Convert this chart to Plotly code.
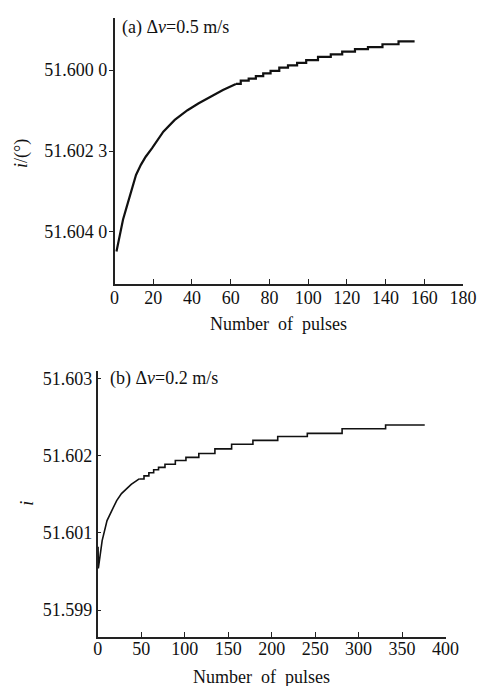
import plotly.graph_objects as go

# Panel (a): dv = 0.5 m/s
a_pulses_smooth = [1, 2.7, 4.4, 6.1, 8.1, 11.1, 13.6, 16.1, 19.4, 25.2, 31.1, 37.7, 43.5, 49.3, 56, 62.7]
a_incl_smooth = [51.60448, 51.60406, 51.60369, 51.60341, 51.60308, 51.60259, 51.60234, 51.60214,
                 51.60193, 51.60152, 51.60123, 51.60099, 51.60082, 51.60066, 51.60049, 51.60034]
a_pulses_step = [62.7, 65.2, 69.3, 73, 76.8, 80.6, 85.1, 89.6, 94.3, 99, 105.1, 111.7, 117.6,
                 124.2, 130.9, 138.4, 146.7, 155]
a_incl_step = [51.60034, 51.60026, 51.60021, 51.60015, 51.60008, 51.60002, 51.59994, 51.59988,
               51.59982, 51.59975, 51.59967, 51.59961, 51.59954, 51.59948, 51.59943, 51.59936,
               51.59929, 51.59929]
a_xticks = [0, 20, 40, 60, 80, 100, 120, 140, 160, 180]
a_ytickvals = [51.6000, 51.6020, 51.6040]
a_yticktext = ["51.600 0", "51.602 3", "51.604 0"]

# Panel (b): dv = 0.2 m/s
b_pulses_smooth = [0.5, 0.8, 5.2, 10.8, 16.3, 21.9, 27.4, 33, 38.6, 47.8]
b_incl_smooth = [51.60082, 51.60054, 51.60090, 51.60116, 51.60129, 51.60142, 51.60151,
                 51.60157, 51.60163, 51.60170]
b_pulses_step = [47.8, 53.3, 58.9, 64.4, 70, 77.4, 89.3, 101.5, 116.3, 134.8, 154, 178.5,
                 207, 241, 281, 331, 376]
b_incl_step = [51.60170, 51.60174, 51.60178, 51.60182, 51.60185, 51.60189, 51.60194, 51.60198,
               51.60203, 51.60209, 51.60215, 51.60220, 51.60225, 51.60229, 51.60235, 51.60240,
               51.60240]
b_xticks = [0, 50, 100, 150, 200, 250, 300, 350, 400]
b_ytickvals = [51.603, 51.602, 51.601, 51.600]
b_yticktext = ["51.603", "51.602", "51.601", "51.599"]

W, H = 490, 686
FONT = "Liberation Serif"


def px_x(p):
    return p / W


def px_y(p):
    return 1 - p / H


fig = go.Figure()

line_a = dict(color="#111111", width=2.2)
line_b = dict(color="#111111", width=1.6)

fig.add_trace(go.Scatter(x=a_pulses_smooth, y=a_incl_smooth, mode="lines", line=line_a,
                         xaxis="x", yaxis="y", showlegend=False))
fig.add_trace(go.Scatter(x=a_pulses_step, y=a_incl_step, mode="lines",
                         line=dict(line_a, shape="hv"), xaxis="x", yaxis="y", showlegend=False))
fig.add_trace(go.Scatter(x=b_pulses_smooth, y=b_incl_smooth, mode="lines", line=line_b,
                         xaxis="x2", yaxis="y2", showlegend=False))
fig.add_trace(go.Scatter(x=b_pulses_step, y=b_incl_step, mode="lines",
                         line=dict(line_b, shape="hv"), xaxis="x2", yaxis="y2", showlegend=False))

axis_common = dict(showgrid=False, zeroline=False, showline=True, linecolor="#222222",
                   linewidth=1.5, tickcolor="#222222", tickwidth=1.2,
                   tickfont=dict(family=FONT, size=18, color="#111111"))

fig.update_layout(
    width=W, height=H,
    margin=dict(l=0, r=0, t=0, b=0),
    paper_bgcolor="white", plot_bgcolor="white",
    xaxis=dict(axis_common, domain=[px_x(114.5), px_x(475.5)], range=[0, 180],
               tickvals=a_xticks, ticks="inside", ticklen=5, anchor="y",
               ticklabelstandoff=-4),
    yaxis=dict(axis_common, domain=[px_y(283), px_y(16)], range=[51.60529, 51.59871],
               tickvals=a_ytickvals, ticktext=a_yticktext, ticks="outside", ticklen=4,
               anchor="x", ticklabelstandoff=-2),
    xaxis2=dict(axis_common, domain=[px_x(97), px_x(457.5)], range=[0, 400],
                tickvals=b_xticks, ticks="inside", ticklen=5, anchor="y2",
                ticklabelstandoff=-5),
    yaxis2=dict(axis_common, domain=[px_y(637), px_y(370)], range=[51.59965, 51.60310],
                tickvals=b_ytickvals, ticktext=b_yticktext, ticks="inside", ticklen=4,
                anchor="x2"),
)

text_font = dict(family=FONT, size=18, color="#111111")
annotations = [
    dict(text="(a) \u0394<i>v</i>=0.5 m/s", x=px_x(120), y=px_y(26), xanchor="left",
         yanchor="middle"),
    dict(text="(b) \u0394<i>v</i>=0.2 m/s", x=px_x(108), y=px_y(378), xanchor="left",
         yanchor="middle"),
    dict(text="Number\u00a0\u00a0of\u00a0\u00a0pulses", x=px_x(284), y=px_y(323),
         xanchor="center", yanchor="middle"),
    dict(text="Number\u00a0\u00a0of\u00a0\u00a0pulses", x=px_x(267), y=px_y(677),
         xanchor="center", yanchor="middle"),
    dict(text="<i>i</i>/(\u00b0)", x=px_x(18), y=px_y(152), xanchor="center",
         yanchor="middle", textangle=-90),
    dict(text="<i>i</i>", x=px_x(23), y=px_y(503), xanchor="center", yanchor="middle",
         textangle=-90),
]
for a in annotations:
    fig.add_annotation(xref="paper", yref="paper", showarrow=False, font=text_font, **a)

fig.write_html("out.html")
